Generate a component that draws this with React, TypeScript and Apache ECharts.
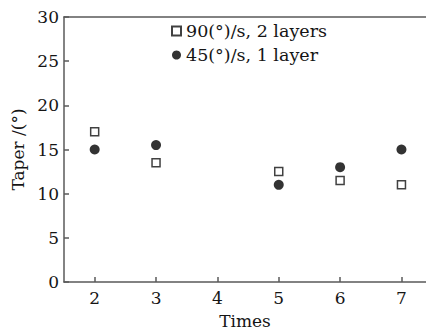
import React, { useEffect, useRef } from "react";
import * as echarts from "echarts";

const times = [2, 3, 5, 6, 7];
const layers2 = [17, 13.5, 12.5, 11.5, 11];
const layer1 = [15, 15.5, 11, 13, 15];
const seriesNames = ["90(°)/s, 2 layers", "45(°)/s, 1 layer"];
const xTicks = [2, 3, 4, 5, 6, 7];

const FONT = "DejaVu Serif";

export default function App() {
  const ref = useRef<HTMLDivElement>(null);
  useEffect(() => {
    const chart = echarts.init(ref.current!, null, { renderer: "svg" });
    const axisColor = "#5a5a5a";
    chart.setOption({
      animation: false,
      textStyle: { fontFamily: FONT },
      grid: {
        left: 64,
        top: 17,
        right: 0,
        bottom: 48,
        show: false,
      },
      legend: {
        orient: "vertical",
        left: 166,
        top: 17,
        itemGap: 6,
        itemWidth: 9,
        itemHeight: 9,
        textStyle: { fontFamily: FONT, fontSize: 17.5, color: "#151515" },
        data: seriesNames,
      },
      xAxis: [
        {
          type: "value",
          min: 1.5,
          max: 7.4,
          name: "Times",
          nameLocation: "middle",
          nameGap: 30,
          nameTextStyle: { fontFamily: FONT, fontSize: 17, color: "#151515" },
          axisLine: { lineStyle: { color: axisColor, width: 1.5 } },
          axisTick: { inside: true, length: 5, customValues: xTicks, lineStyle: { color: axisColor, width: 1.5 } },
          axisLabel: {
            fontFamily: FONT,
            fontSize: 17,
            color: "#151515",
            margin: 7,
            customValues: xTicks,
          },
          splitLine: { show: false },
        },
        {
          type: "value",
          position: "top",
          min: 1.5,
          max: 7.4,
          axisLine: { show: true, lineStyle: { color: axisColor, width: 1.5 } },
          axisTick: { show: false },
          axisLabel: { show: false },
          splitLine: { show: false },
        },
      ],
      yAxis: {
        type: "value",
        min: 0,
        max: 30,
        interval: 5,
        name: "Taper /(°)",
        nameLocation: "middle",
        nameRotate: 90,
        nameGap: 37,
        nameTextStyle: { fontFamily: FONT, fontSize: 17, color: "#151515" },
        axisLine: { show: true, lineStyle: { color: axisColor, width: 1.5 } },
        axisTick: { show: true, inside: true, length: 5, lineStyle: { color: axisColor, width: 1.5 } },
        axisLabel: { fontFamily: FONT, fontSize: 17, color: "#151515", margin: 5 },
        splitLine: { show: false },
      },
      series: [
        {
          name: seriesNames[0],
          type: "scatter",
          symbol: "rect",
          symbolSize: 8,
          itemStyle: { color: "#fff", borderColor: "#111", borderWidth: 1.5 },
          data: times.map((t, i) => [t, layers2[i]]),
        },
        {
          name: seriesNames[1],
          type: "scatter",
          symbol: "circle",
          symbolSize: 10,
          itemStyle: { color: "#000" },
          data: times.map((t, i) => [t, layer1[i]]),
        },
      ],
    });
    return () => chart.dispose();
  }, []);
  return <div ref={ref} style={{ width: 426, height: 334, position: "absolute", left: 0, top: 0 }} />;
}
